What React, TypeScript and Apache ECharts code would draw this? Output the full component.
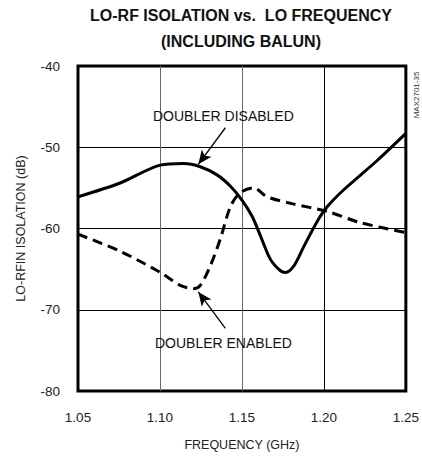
import React, { useEffect, useRef } from "react";
import * as echarts from "echarts";

const title = "LO-RF ISOLATION vs.  LO FREQUENCY\n(INCLUDING BALUN)";
const xTicks = [1.05, 1.1, 1.15, 1.2, 1.25];
const yTicks = [-80, -70, -60, -50, -40];

const disabledFreq = [1.05, 1.0757, 1.1002, 1.1144, 1.1246, 1.1348, 1.143, 1.15, 1.1562, 1.1613, 1.1674, 1.1735, 1.1766, 1.1817, 1.1878, 1.196, 1.2021, 1.2123, 1.2327, 1.25];
const disabledDb = [-56.1, -54.4, -52.2, -52.0, -52.4, -53.4, -54.8, -56.5, -58.5, -60.9, -63.8, -65.2, -65.4, -64.6, -62.2, -59.1, -57.3, -55.2, -51.6, -48.3];

const enabledFreq = [1.05, 1.0757, 1.1002, 1.1124, 1.1205, 1.1246, 1.1307, 1.1368, 1.143, 1.149, 1.1572, 1.1654, 1.1817, 1.2021, 1.2225, 1.25];
const enabledDb = [-60.7, -62.8, -65.4, -67.0, -67.4, -67.0, -64.6, -61.3, -57.3, -55.6, -55.0, -56.1, -57.0, -57.9, -59.3, -60.5];

const labelDisabled = "DOUBLER DISABLED";
const labelEnabled = "DOUBLER ENABLED";
const labelDisabledAt = [1.1387, -46.2];
const labelEnabledAt = [1.1387, -74.1];
const arrowDisabled = [[1.1399, -47.6], [1.1234, -52.1]];
const arrowEnabled = [[1.1399, -72.3], [1.1234, -67.8]];

const FONT = "Liberation Sans, Arial, sans-serif";

export default function App() {
  const ref = useRef<HTMLDivElement>(null);
  useEffect(() => {
    const chart = echarts.init(ref.current!, null, { renderer: "svg" });
    const zip = (a: number[], b: number[]) => a.map((v, i) => [v, b[i]]);
    chart.setOption({
      animation: false,
      backgroundColor: "#fff",
      title: {
        text: title,
        left: 241,
        top: 2,
        padding: 0,
        textAlign: "center",
        textStyle: { fontFamily: FONT, fontSize: 16, fontWeight: "bold", color: "#111", lineHeight: 26 },
      },
      grid: { left: 78, top: 66, width: 328, height: 327, show: true, borderColor: "#000", borderWidth: 3, backgroundColor: "transparent" },
      xAxis: {
        type: "value",
        min: 1.05,
        max: 1.25,
        interval: 0.05,
        name: "FREQUENCY (GHz)",
        nameLocation: "middle",
        nameGap: 47,
        nameTextStyle: { fontFamily: FONT, fontSize: 12.5, color: "#222" },
        axisLine: { show: false },
        axisTick: { show: false },
        axisLabel: { fontFamily: FONT, fontSize: 13.5, color: "#222", margin: 19, formatter: (v: number) => v.toFixed(2) },
        splitLine: { show: true, lineStyle: { color: ["#000", "#666", "#666", "#000", "#000"], width: 1 } },
      },
      yAxis: {
        type: "value",
        min: -80,
        max: -40,
        interval: 10,
        name: "LO-RFIN ISOLATION (dB)",
        nameLocation: "middle",
        nameGap: 51,
        nameTextStyle: { fontFamily: FONT, fontSize: 12.5, color: "#222" },
        axisLine: { show: false },
        axisTick: { show: false },
        axisLabel: { fontFamily: FONT, fontSize: 13.5, color: "#222", margin: 18, formatter: (v: number) => String(v) },
        splitLine: { show: true, lineStyle: { color: "#000", width: 1 } },
      },
      series: [
        {
          type: "line",
          data: zip(disabledFreq, disabledDb),
          smooth: 0.3,
          symbol: "none",
          lineStyle: { color: "#000", width: 3 },
          z: 5,
        },
        {
          type: "line",
          data: zip(enabledFreq, enabledDb),
          smooth: 0.3,
          symbol: "none",
          lineStyle: { color: "#000", width: 3, type: [10, 6] },
          z: 5,
        },
        {
          type: "line",
          data: [],
          markLine: {
            silent: true,
            symbol: ["none", "arrow"],
            symbolSize: [9, 14],
            label: { show: false },
            lineStyle: { color: "#000", width: 1.3, type: "solid" },
            data: [
              [{ coord: arrowDisabled[0] }, { coord: arrowDisabled[1] }],
              [{ coord: arrowEnabled[0] }, { coord: arrowEnabled[1] }],
            ],
          },
          markPoint: {
            silent: true,
            symbol: "rect",
            symbolSize: 1,
            itemStyle: { color: "transparent" },
            label: { show: true, position: "inside", fontFamily: FONT, fontSize: 14, color: "#111", formatter: (p: any) => p.name },
            data: [
              { name: labelDisabled, coord: labelDisabledAt },
              { name: labelEnabled, coord: labelEnabledAt },
            ],
          },
        },
      ],
      graphic: [
        {
          type: "text",
          x: 416,
          y: 95,
          rotation: Math.PI / 2,
          style: { text: "MAX2701-35", fontFamily: FONT, fontSize: 8, fill: "#333", align: "center", verticalAlign: "middle" },
        },
      ],
    });
    return () => chart.dispose();
  }, []);
  return <div ref={ref} style={{ width: 422, height: 456, position: "absolute", left: 0, top: 0 }} />;
}
